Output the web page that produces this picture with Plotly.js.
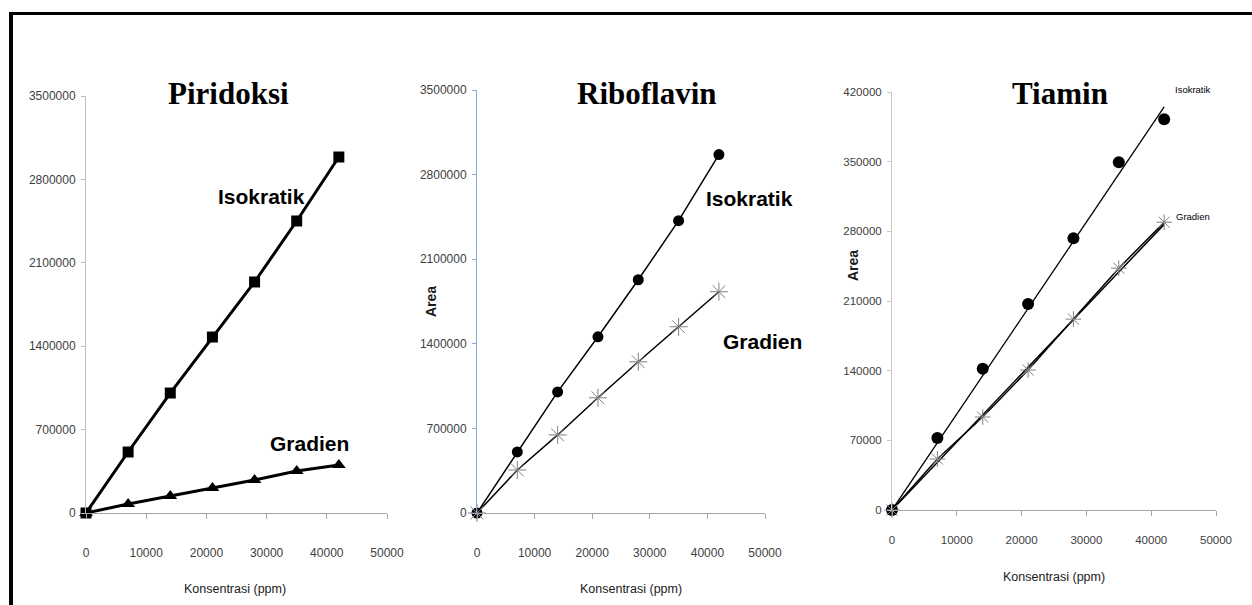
<!DOCTYPE html>
<html>
<head>
<meta charset="utf-8">
<script src="https://cdn.plot.ly/plotly-3.0.1.min.js"></script>
<style>
  html, body { margin: 0; padding: 0; overflow: hidden; background: #fff; }
  #chart { width: 1252px; height: 605px; }
  #frame { position: absolute; left: 9px; top: 12px; width: 1400px; height: 800px;
           border-top: 3px solid #000; border-left: 4px solid #000; pointer-events: none; }
</style>
</head>
<body>
<div id="chart"></div>
<div id="frame"></div>
<script>
// ---- data ----
const konsentrasi = [0, 7000, 14000, 21000, 28000, 35000, 42000];

const piridoksiIsokratik = [0, 512000, 1007000, 1477000, 1939000, 2451000, 2988000];
const piridoksiGradien   = [0, 75000, 143000, 210000, 277000, 352000, 403000];

const riboflavinIsokratik = [0, 505000, 1002000, 1458000, 1930000, 2419000, 2966000];
const riboflavinGradien   = [0, 356000, 646000, 953000, 1251000, 1541000, 1831000];

const tiaminIsokratik = [0, 72300, 142000, 207000, 273000, 349500, 392700];
const tiaminGradien   = [0, 51200, 93400, 140600, 191800, 243000, 289200];

// trend lines (end points)
const trendX = [0, 42000];
const tiaminIsoTrend  = [0, 405000];
const tiaminGradTrend = [0, 287000];

const panelTitles = ['Piridoksi', 'Riboflavin', 'Tiamin'];
const xTicks = [0, 10000, 20000, 30000, 40000, 50000];
const xTickText = ['0', '10000', '20000', '30000', '40000', '50000'];
const yTicksBig = [0, 700000, 1400000, 2100000, 2800000, 3500000];
const yTickTextBig = ['0', '700000', '1400000', '2100000', '2800000', '3500000'];
const yTicksTiamin = [0, 70000, 140000, 210000, 280000, 350000, 420000];
const yTickTextTiamin = ['0', '70000', '140000', '210000', '280000', '350000', '420000'];
const xTitle = 'Konsentrasi (ppm)';
const yTitle = 'Area';

// ---- traces ----
const sans = '"Liberation Sans", Arial, sans-serif';
const traces = [
  { x: konsentrasi, y: piridoksiIsokratik, xaxis: 'x', yaxis: 'y', mode: 'lines+markers',
    line: { color: '#000', width: 3 }, marker: { symbol: 'square', size: 11, color: '#000' }, cliponaxis: false },
  { x: konsentrasi, y: piridoksiGradien, xaxis: 'x', yaxis: 'y', mode: 'lines+markers',
    line: { color: '#000', width: 3 }, marker: { symbol: 'triangle-up', size: 12, color: '#000' }, cliponaxis: false },

  { x: konsentrasi, y: riboflavinIsokratik, xaxis: 'x2', yaxis: 'y2', mode: 'lines+markers',
    line: { color: '#000', width: 1.5 }, marker: { symbol: 'circle', size: 11, color: '#000' }, cliponaxis: false },
  { x: konsentrasi, y: riboflavinGradien, xaxis: 'x2', yaxis: 'y2', mode: 'lines+markers',
    line: { color: '#000', width: 1.5 },
    marker: { symbol: 'asterisk-open', size: 15, color: '#808080', line: { color: '#808080', width: 1 } }, cliponaxis: false },

  { x: trendX, y: tiaminIsoTrend, xaxis: 'x3', yaxis: 'y3', mode: 'lines',
    line: { color: '#000', width: 1.3 }, cliponaxis: false },
  { x: trendX, y: tiaminGradTrend, xaxis: 'x3', yaxis: 'y3', mode: 'lines',
    line: { color: '#000', width: 1.5 }, cliponaxis: false },
  { x: konsentrasi, y: tiaminIsokratik, xaxis: 'x3', yaxis: 'y3', mode: 'markers',
    marker: { symbol: 'circle', size: 12, color: '#000' }, cliponaxis: false },
  { x: konsentrasi, y: tiaminGradien, xaxis: 'x3', yaxis: 'y3', mode: 'lines+markers',
    line: { color: '#000', width: 1.5 },
    marker: { symbol: 'asterisk-open', size: 13, color: '#808080', line: { color: '#808080', width: 1 } }, cliponaxis: false }
];

function xAxis(domain, anchor, standoff, size) {
  return {
    domain: domain, anchor: anchor, range: [0, 50000], tickvals: xTicks, ticktext: xTickText,
    showgrid: false, zeroline: false, showline: true, linecolor: '#a6a6a6', linewidth: 1,
    ticks: 'outside', ticklen: 5, tickcolor: '#a6a6a6', ticklabelstandoff: standoff,
    tickfont: { family: sans, size: size, color: '#404040' }, fixedrange: true
  };
}
function yAxis(domain, anchor, range, vals, text, lineColor, size) {
  return {
    domain: domain, anchor: anchor, range: range, tickvals: vals, ticktext: text,
    showgrid: false, zeroline: false, showline: true, linecolor: lineColor, linewidth: 1,
    ticks: 'outside', ticklen: 4, tickcolor: lineColor, ticklabelstandoff: 3,
    tickfont: { family: sans, size: size, color: '#404040' }, fixedrange: true
  };
}

const W = 1252, H = 605;
const px = v => v / W, py = v => (H - v) / H;

const titleFont = { family: '"Liberation Serif", "Times New Roman", serif', size: 31, color: '#000' };
const labelFont = { family: sans, size: 21, color: '#000' };
const smallFont = { family: sans, size: 9.5, color: '#000' };
const axTitleFont = { family: sans, size: 12.5, color: '#1a1a1a' };
const areaFont = { family: sans, size: 14, color: '#1a1a1a' };

function ann(text, x, y, font, extra) {
  return Object.assign({ text: text, xref: 'paper', yref: 'paper', x: px(x), y: py(y),
    xanchor: 'center', yanchor: 'middle', showarrow: false, font: font }, extra || {});
}

const layout = {
  width: W, height: H,
  margin: { l: 0, r: 0, t: 0, b: 0 },
  paper_bgcolor: '#fff', plot_bgcolor: 'rgba(0,0,0,0)',
  showlegend: false,
  xaxis:  xAxis([px(86), px(387)], 'y', 24, 12),
  yaxis:  yAxis([py(513), py(96)], 'x', [0, 3500000], yTicksBig, yTickTextBig, '#bfbfbf', 12),
  xaxis2: xAxis([px(477), px(765)], 'y2', 24, 12),
  yaxis2: yAxis([py(513), py(90)], 'x2', [0, 3500000], yTicksBig, yTickTextBig, '#8eaadb', 12),
  xaxis3: xAxis([px(892), px(1216)], 'y3', 14, 11.5),
  yaxis3: yAxis([py(510), py(92)], 'x3', [0, 420000], yTicksTiamin, yTickTextTiamin, '#c8c8c8', 11.5),
  annotations: [
    ann('<b>' + panelTitles[0] + '</b>', 228, 94, titleFont),
    ann('<b>' + panelTitles[1] + '</b>', 647, 93, titleFont),
    ann('<b>' + panelTitles[2] + '</b>', 1060, 93, titleFont),
    ann('<b>Isokratik</b>', 261, 196, labelFont),
    ann('<b>Gradien</b>', 309, 443, labelFont),
    ann('<b>Isokratik</b>', 750, 198, labelFont),
    ann('<b>Gradien</b>', 762, 341, labelFont),
    ann('Isokratik', 1193, 89, smallFont),
    ann('Gradien', 1193, 216, smallFont),
    ann(xTitle, 235, 589, axTitleFont),
    ann(xTitle, 631, 589, axTitleFont),
    ann(xTitle, 1054, 577, axTitleFont),
    ann('<b>' + yTitle + '</b>', 431, 302, areaFont, { textangle: -90 }),
    ann('<b>' + yTitle + '</b>', 853, 266, areaFont, { textangle: -90 })
  ]
};

Plotly.newPlot('chart', traces, layout, { displayModeBar: false, staticPlot: true });
</script>
</body>
</html>
